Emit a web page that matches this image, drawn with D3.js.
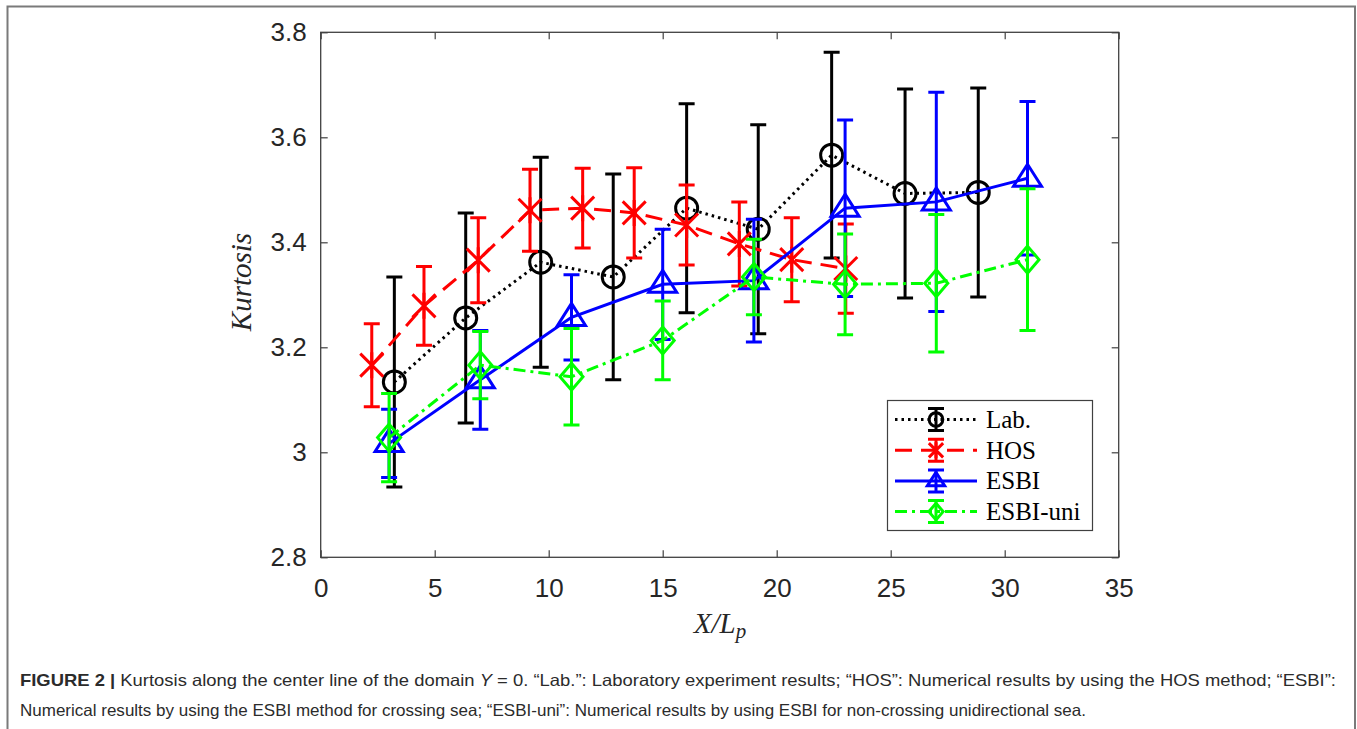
<!DOCTYPE html>
<html>
<head>
<meta charset="utf-8">
<script src="https://cdn.jsdelivr.net/npm/d3@7"></script>
<style>
  body { margin: 0; background: #fff; }
  svg { display: block; }
  .tick text { font-family: "Liberation Sans", Arial, sans-serif; font-size: 26px; fill: #262626; }
  .tick line { stroke: #404040; stroke-width: 1.2; }
  .domain { stroke: none; }
</style>
</head>
<body>
<div id="chart"></div>
<script>
// Data
// ============================================================================
const labX = [3.23, 6.36, 9.65, 12.83, 16.05, 19.19, 22.41, 25.63, 28.84],
    labY = [3.134, 3.256, 3.362, 3.334, 3.465, 3.425, 3.566, 3.493, 3.495],
    labErr = [0.200, 0.200, 0.200, 0.196, 0.199, 0.199, 0.196, 0.199, 0.199];

const hosX = [2.24, 4.53, 6.91, 9.18, 11.49, 13.75, 16.05, 18.36, 20.66, 23.03],
    hosY = [3.166, 3.279, 3.366, 3.461, 3.465, 3.456, 3.433, 3.397, 3.367, 3.350],
    hosErr = [0.079, 0.075, 0.081, 0.078, 0.076, 0.086, 0.076, 0.080, 0.080, 0.085];

const esbiX = [3, 7, 11, 15, 19, 23, 27, 31],
    esbiY = [3.017, 3.138, 3.257, 3.320, 3.327, 3.465, 3.477, 3.522],
    esbiErr = [0.065, 0.094, 0.081, 0.105, 0.117, 0.168, 0.209, 0.146];

const uniX = [3, 7, 11, 15, 19, 23, 27, 31],
    uniY = [3.028, 3.166, 3.144, 3.213, 3.334, 3.320, 3.322, 3.367],
    uniErr = [0.084, 0.064, 0.092, 0.075, 0.072, 0.096, 0.131, 0.135];

const xTicks = [0, 5, 10, 15, 20, 25, 30, 35],
    yTicks = [2.8, 3, 3.2, 3.4, 3.6, 3.8];

const seriesNames = ["Lab.", "HOS", "ESBI", "ESBI-uni"];

const captionLine1 = "Kurtosis along the center line of the domain ",
    captionLine1b = " = 0. \u201cLab.\u201d: Laboratory experiment results; \u201cHOS\u201d: Numerical results by using the HOS method; \u201cESBI\u201d:",
    captionLine2 = "Numerical results by using the ESBI method for crossing sea; \u201cESBI-uni\u201d: Numerical results by using ESBI for non-crossing unidirectional sea.";

// Layout
// ============================================================================
const W = 1357, H = 729,
    plot = {left: 320.7, right: 1118.7, top: 32.3, bottom: 557.3};

// Marker shapes (centred on 0,0)
// ============================================================================
function markerPath(kind, s) {
    if (kind === "circle") {
        const r = 11 * s;
        return `M${-r},0A${r},${r} 0 1,0 ${r},0A${r},${r} 0 1,0 ${-r},0Z`;
    }
    if (kind === "star") {
        const a = 13 * s, d = 11.5 * s;
        return `M0,${-a}L0,${a}M${-d},${-d}L${d},${d}M${-d},${d}L${d},${-d}`;
    }
    if (kind === "tri") {
        const hw = 14 * s, up = 14 * s, dn = 8 * s;
        return `M0,${-up}L${hw},${dn}L${-hw},${dn}Z`;
    }
    // diamond
    const dx = 11.5 * s, dy = 13.5 * s;
    return `M0,${-dy}L${dx},0L0,${dy}L${-dx},0Z`;
}

const series = [
    {name: seriesNames[0], x: labX, y: labY, e: labErr, color: "#000000", dash: "2.5,4", marker: "circle"},
    {name: seriesNames[1], x: hosX, y: hosY, e: hosErr, color: "#ff0000", dash: "17,9", marker: "star"},
    {name: seriesNames[2], x: esbiX, y: esbiY, e: esbiErr, color: "#0000ff", dash: null, marker: "tri"},
    {name: seriesNames[3], x: uniX, y: uniY, e: uniErr, color: "#00ff00", dash: "12,5,3,5", marker: "diamond"}
];

// Plot
// ============================================================================
const svg = d3.select("#chart")
    .append("svg")
        .attr("width", W)
        .attr("height", H);

// Figure frame
svg.append("rect")
    .attr("x", 7.5).attr("y", 6.5)
    .attr("width", 1347.5).attr("height", 740)
    .attr("fill", "none")
    .attr("stroke", "#7a7a7a")
    .attr("stroke-width", 2);

const xScale = d3.scaleLinear().domain([0, 35]).range([plot.left, plot.right]);
const yScale = d3.scaleLinear().domain([2.8, 3.8]).range([plot.bottom, plot.top]);

// Axes (ticks point inward, box on)
svg.append("g")
    .attr("transform", `translate(0,${plot.bottom})`)
    .call(d3.axisBottom(xScale).tickValues(xTicks).tickSizeInner(-7).tickSizeOuter(0).tickPadding(21));

svg.append("g")
    .attr("transform", `translate(${plot.left},0)`)
    .call(d3.axisLeft(yScale).tickValues(yTicks).tickFormat(d3.format("")).tickSizeInner(-7).tickSizeOuter(0).tickPadding(14));

svg.append("g")
    .attr("transform", `translate(0,${plot.top})`)
    .call(d3.axisTop(xScale).tickValues(xTicks).tickFormat("").tickSizeInner(-7).tickSizeOuter(0));

svg.append("g")
    .attr("transform", `translate(${plot.right},0)`)
    .call(d3.axisRight(yScale).tickValues(yTicks).tickFormat("").tickSizeInner(-7).tickSizeOuter(0));

svg.append("rect")
    .attr("x", plot.left).attr("y", plot.top)
    .attr("width", plot.right - plot.left)
    .attr("height", plot.bottom - plot.top)
    .attr("fill", "none")
    .attr("stroke", "#404040")
    .attr("stroke-width", 1.3);

// Series: line, error bars, markers
const capW = 8;
series.forEach(s => {
    const pts = s.x.map((x, i) => ({x: x, y: s.y[i], e: s.e[i]}));
    const g = svg.append("g");

    g.append("path")
        .datum(pts)
        .attr("fill", "none")
        .attr("stroke", s.color)
        .attr("stroke-width", 3)
        .attr("stroke-dasharray", s.dash)
        .attr("d", d3.line().x(d => xScale(d.x)).y(d => yScale(d.y)));

    g.selectAll(".eb").data(pts).enter().append("path")
        .attr("fill", "none")
        .attr("stroke", s.color)
        .attr("stroke-width", 3)
        .attr("d", d => {
            const cx = xScale(d.x), t = yScale(d.y + d.e), b = yScale(d.y - d.e);
            return `M${cx},${t}L${cx},${b}M${cx - capW},${t}L${cx + capW},${t}M${cx - capW},${b}L${cx + capW},${b}`;
        });

    g.selectAll(".mk").data(pts).enter().append("path")
        .attr("fill", "none")
        .attr("stroke", s.color)
        .attr("stroke-width", 3)
        .attr("transform", d => `translate(${xScale(d.x)},${yScale(d.y)})`)
        .attr("d", markerPath(s.marker, 1));
});

// Legend
const leg = {x: 887.5, y: 400.5, w: 205, h: 130, row0: 419.5, step: 30.7};
svg.append("rect")
    .attr("x", leg.x).attr("y", leg.y)
    .attr("width", leg.w).attr("height", leg.h)
    .attr("fill", "#fff")
    .attr("stroke", "#404040")
    .attr("stroke-width", 1.2);

series.forEach((s, i) => {
    const cy = leg.row0 + i * leg.step, cx = 936;
    svg.append("line")
        .attr("x1", 895).attr("x2", 977)
        .attr("y1", cy).attr("y2", cy)
        .attr("stroke", s.color)
        .attr("stroke-width", 3)
        .attr("stroke-dasharray", s.dash);
    svg.append("path")
        .attr("fill", "none")
        .attr("stroke", s.color)
        .attr("stroke-width", 3)
        .attr("d", `M${cx},${cy - 11}L${cx},${cy + 11}M${cx - 8},${cy - 11}L${cx + 8},${cy - 11}M${cx - 8},${cy + 11}L${cx + 8},${cy + 11}`);
    svg.append("path")
        .attr("fill", "none")
        .attr("stroke", s.color)
        .attr("stroke-width", 3)
        .attr("transform", `translate(${cx},${cy})`)
        .attr("d", markerPath(s.marker, 0.62));
    svg.append("text")
        .attr("x", 986).attr("y", cy + 8.5)
        .style("font-family", "'Liberation Serif', 'DejaVu Serif', serif")
        .style("font-size", "25px")
        .attr("fill", "#000")
        .text(s.name);
});

// Axis labels
svg.append("text")
    .attr("transform", "translate(251,282) rotate(-90)")
    .attr("text-anchor", "middle")
    .style("font-family", "'Liberation Serif', 'DejaVu Serif', serif")
    .style("font-style", "italic")
    .style("font-size", "29px")
    .attr("fill", "#262626")
    .text("Kurtosis");

const xl = svg.append("text")
    .attr("x", 720).attr("y", 633)
    .attr("text-anchor", "middle")
    .style("font-family", "'Liberation Serif', 'DejaVu Serif', serif")
    .style("font-style", "italic")
    .style("font-size", "29px")
    .attr("fill", "#262626");
xl.append("tspan").text("X/L");
xl.append("tspan").attr("dy", 5).style("font-size", "21px").text("p");

// Caption
const cap1 = svg.append("text")
    .attr("x", 20).attr("y", 686)
    .attr("textLength", 1316)
    .attr("lengthAdjust", "spacingAndGlyphs")
    .style("font-family", "'Liberation Sans', Arial, sans-serif")
    .style("font-size", "16.5px")
    .attr("fill", "#2b2b2b");
cap1.append("tspan").style("font-weight", "bold").text("FIGURE 2 | ");
cap1.append("tspan").text(captionLine1);
cap1.append("tspan").style("font-style", "italic").text("Y");
cap1.append("tspan").text(captionLine1b);

svg.append("text")
    .attr("x", 20).attr("y", 716)
    .attr("textLength", 1066)
    .attr("lengthAdjust", "spacingAndGlyphs")
    .style("font-family", "'Liberation Sans', Arial, sans-serif")
    .style("font-size", "16.5px")
    .attr("fill", "#2b2b2b")
    .text(captionLine2);
</script>
</body>
</html>
